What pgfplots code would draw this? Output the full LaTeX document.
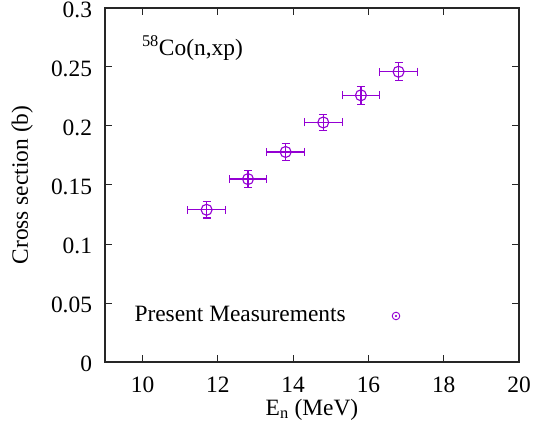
\documentclass[border=0pt]{standalone}
\usepackage{fontspec}
\setmainfont{Liberation Serif}
\usepackage{pgfplots}
\pgfplotsset{compat=1.18}
\definecolor{gpviolet}{HTML}{9400D3}

\pgfplotstableread{
E     sig    dE   dsig
11.7  0.129  0.5  0.007
12.8  0.155  0.5  0.007
13.8  0.178  0.5  0.007
14.8  0.203  0.5  0.007
15.8  0.226  0.5  0.0075
16.8  0.246  0.5  0.0075
}\cotable

\begin{document}
\fontsize{23.5}{28}\selectfont
\begin{tikzpicture}
\begin{axis}[
    scale only axis,
    width=414bp, height=354bp,
    xmin=9, xmax=20, ymin=0, ymax=0.3,
    xtick={10,12,14,16,18,20},
    xticklabels={10,12,14,16,18,20},
    ytick={0,0.05,0.1,0.15,0.2,0.25,0.3},
    yticklabels={0,0.05,0.1,0.15,0.2,0.25,0.3},
    tick align=inside,
    major tick length=7bp,
    axis line style={line width=1.3bp, black!85},
    tick style={line width=1bp, black!85},
    yticklabel style={xshift=-5bp, yshift=-1.5bp},
    xticklabel style={yshift=-7bp},
    xlabel={E\textsubscript{n} (MeV)},
    ylabel={Cross section (b)},
    xlabel style={at={(axis description cs:0.5,-0.150)}, anchor=base},
    ylabel style={at={(axis description cs:-0.200,0.5)}, anchor=center},
    legend plot pos=right,
    legend style={draw=none, fill=none, inner sep=0pt,
        at={(rel axis cs:0.066,0.13)}, anchor=west},
    legend image code/.code={
        \path (0,0);
        \draw[gpviolet, line width=0.9bp] (48bp,0) circle (3.8bp);
        \fill[gpviolet] (48bp,0) circle (0.8bp);
    },
]
% points with both error bars; caps drawn as a small cross-free bar
\addplot[gpviolet, only marks, mark=o, mark size=5.5bp,
    mark options={line width=1.1bp, solid},
    error bars/.cd,
        x dir=both, x explicit,
        y dir=both, y explicit,
        error bar style={line width=1.2bp, gpviolet, solid},
        error mark=|,
        error mark options={gpviolet, mark size=4bp, line width=1.2bp}]
    table[x=E, y=sig, x error=dE, y error=dsig] {\cotable};
\addlegendentry{Present Measurements}
\node[anchor=base west, inner sep=0pt] at (rel axis cs:0.089,0.867)
    {\textsuperscript{58}Co(n,xp)};
\end{axis}
\pgfresetboundingbox
\path (current axis.south west) ++(-105bp,-66bp) rectangle ++(541bp,428bp);
\end{tikzpicture}
\end{document}
